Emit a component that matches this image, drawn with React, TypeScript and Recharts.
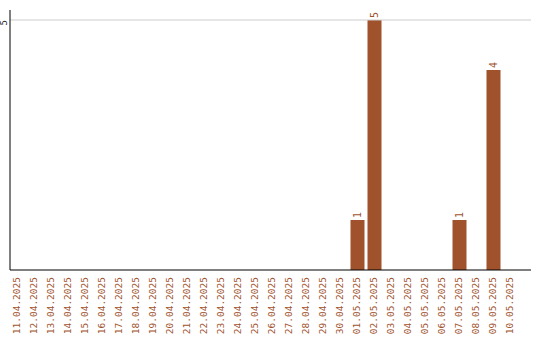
import React from "react";
import { BarChart, Bar, XAxis, YAxis, ReferenceLine, LabelList } from "recharts";

// daily counts, 11.04.2025 – 10.05.2025
const dates = [
  "11.04.2025", "12.04.2025", "13.04.2025", "14.04.2025", "15.04.2025",
  "16.04.2025", "17.04.2025", "18.04.2025", "19.04.2025", "20.04.2025",
  "21.04.2025", "22.04.2025", "23.04.2025", "24.04.2025", "25.04.2025",
  "26.04.2025", "27.04.2025", "28.04.2025", "29.04.2025", "30.04.2025",
  "01.05.2025", "02.05.2025", "03.05.2025", "04.05.2025", "05.05.2025",
  "06.05.2025", "07.05.2025", "08.05.2025", "09.05.2025", "10.05.2025",
];
const counts = [
  0, 0, 0, 0, 0, 0, 0, 0, 0, 0,
  0, 0, 0, 0, 0, 0, 0, 0, 0, 0,
  1, 5, 0, 0, 0, 0, 1, 0, 4, 0,
];
const yTicks = [5];

const data = dates.map((date, i) => ({ date, count: counts[i] }));

const BROWN = "#a0522d";
const FONT = "'DejaVu Sans Mono', monospace";

// rotated date under each bar, reading bottom-to-top
function DateTick({ x, y, payload }: any) {
  const ty = y - 1;
  return (
    <text
      x={x}
      y={ty}
      dy="0.35em"
      transform={`rotate(-90, ${x}, ${ty})`}
      textAnchor="end"
      fill={BROWN}
      fontFamily={FONT}
      fontSize={9.5}
    >
      {payload.value}
    </text>
  );
}

function CountTick({ y, payload }: any) {
  return (
    <text
      x={4}
      y={y}
      dy="0.35em"
      transform={`rotate(-90, 4, ${y})`}
      textAnchor="end"
      fill="#222"
      fontFamily={FONT}
      fontSize={9}
    >
      {payload.value}
    </text>
  );
}

function ValueLabel({ x, y, width, value }: any) {
  if (!value) return null;
  const cx = x + width / 2;
  const ty = y - 2;
  return (
    <text
      x={cx}
      y={ty}
      dy="0.35em"
      transform={`rotate(-90, ${cx}, ${ty})`}
      textAnchor="start"
      fill={BROWN}
      fontFamily={FONT}
      fontSize={10}
    >
      {value}
    </text>
  );
}

export default function App() {
  return (
    <div style={{ position: "fixed", left: 0, top: 0, background: "#fff" }}>
      <BarChart
        width={540}
        height={340}
        data={data}
        margin={{ top: 10, right: 9, left: 0, bottom: 0 }}
        barSize={14}
      >
        <XAxis
          dataKey="date"
          interval={0}
          height={70}
          padding={{ left: -1.5, right: 12.5 }}
          axisLine={{ stroke: "#000" }}
          tickLine={false}
          tick={<DateTick />}
        />
        <YAxis
          width={10}
          domain={[0, 5]}
          ticks={yTicks}
          padding={{ top: 10, bottom: 0 }}
          axisLine={{ stroke: "#000" }}
          tickLine={false}
          tick={<CountTick />}
        />
        {yTicks.map((t) => (
          <ReferenceLine key={t} y={t} stroke="#cccccc" />
        ))}
        <Bar dataKey="count" fill={BROWN} isAnimationActive={false}>
          <LabelList dataKey="count" content={<ValueLabel />} />
        </Bar>
      </BarChart>
    </div>
  );
}
